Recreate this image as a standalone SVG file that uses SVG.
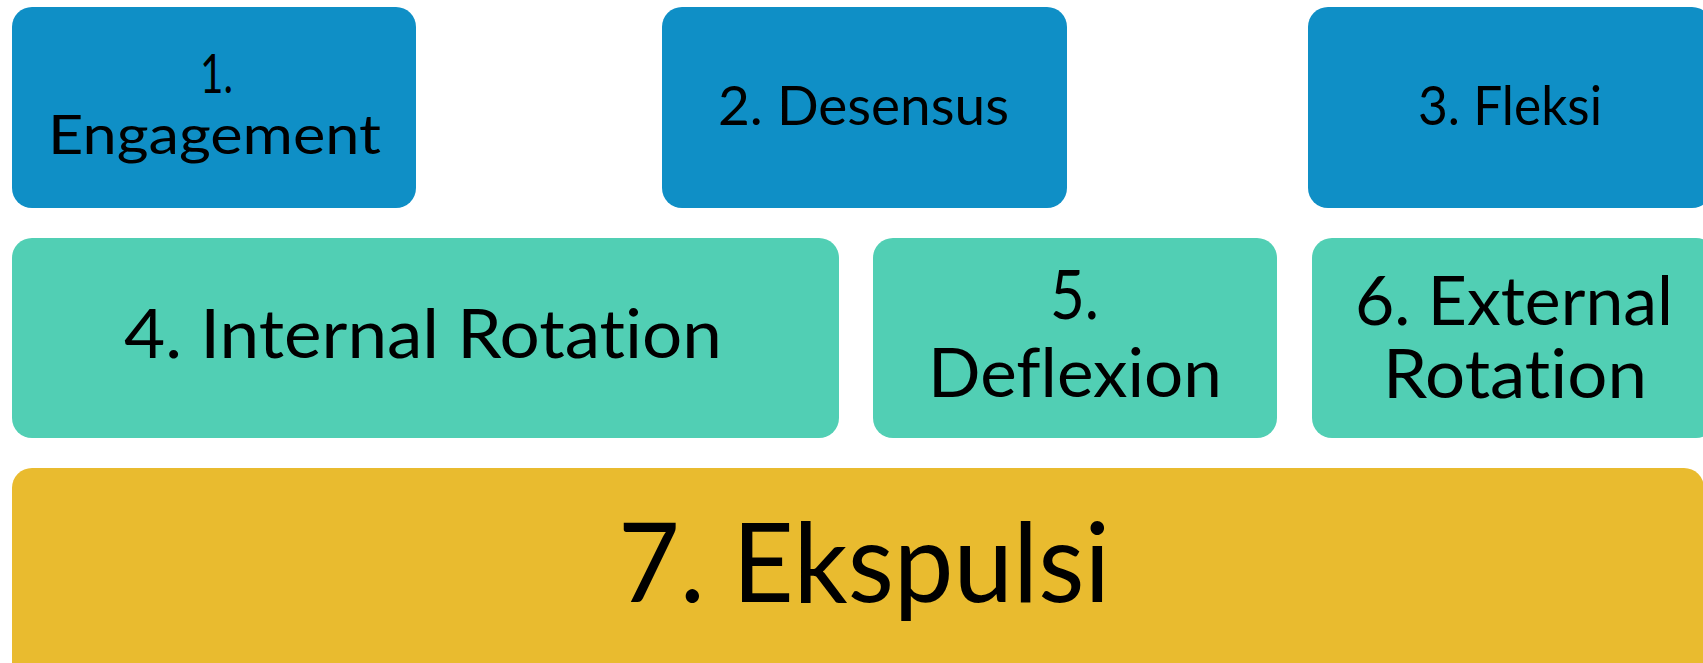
<svg xmlns="http://www.w3.org/2000/svg" width="1703" height="663" viewBox="0 0 1703 663">
<style>
.blue{fill:#0F8FC6}
.teal{fill:#51CFB4}
.yellow{fill:#E9BB2F}
text{font-family:Lato,"Liberation Sans",sans-serif;fill:#000;text-anchor:start;font-variant-ligatures:none;font-feature-settings:"liga" 0,"clig" 0}
.s1{font-size:54px}
.s2{font-size:67px}
.s3{font-size:110px}
</style>
<rect width="1703" height="663" fill="#fff"/>
<g id="n1">
<rect class="blue" x="12" y="7" width="404" height="201" rx="20"/>
<text class="s1" x="200" y="93" textLength="33" lengthAdjust="spacingAndGlyphs">1.</text>
<text class="s1" x="48" y="154" textLength="333" lengthAdjust="spacingAndGlyphs">Engagement</text>
</g>
<g id="n2">
<rect class="blue" x="662" y="7" width="405" height="201" rx="20"/>
<text class="s1" x="718" y="125" textLength="291" lengthAdjust="spacingAndGlyphs">2. Desensus</text>
</g>
<g id="n3">
<rect class="blue" x="1308" y="7" width="404" height="201" rx="20"/>
<text class="s1" x="1418" y="125" textLength="184" lengthAdjust="spacingAndGlyphs">3. Fleksi</text>
</g>
<g id="n4">
<rect class="teal" x="12" y="238" width="827" height="200" rx="20"/>
<text class="s2" x="124" y="358" textLength="598" lengthAdjust="spacingAndGlyphs">4. Internal Rotation</text>
</g>
<g id="n5">
<rect class="teal" x="873" y="238" width="404" height="200" rx="20"/>
<text class="s2" x="1050" y="319" textLength="49" lengthAdjust="spacingAndGlyphs">5.</text>
<text class="s2" x="928" y="397" textLength="294" lengthAdjust="spacingAndGlyphs">Deflexion</text>
</g>
<g id="n6">
<rect class="teal" x="1312" y="238" width="404" height="200" rx="20"/>
<text class="s2" x="1355" y="325" textLength="318" lengthAdjust="spacingAndGlyphs">6. External</text>
<text class="s2" x="1383" y="398" textLength="264" lengthAdjust="spacingAndGlyphs">Rotation</text>
</g>
<g id="n7">
<rect class="yellow" x="12" y="468" width="1692" height="230" rx="20"/>
<text class="s3" x="618" y="602" textLength="492" lengthAdjust="spacingAndGlyphs">7. Ekspulsi</text>
</g>
<g id="connectors"></g>
</svg>
